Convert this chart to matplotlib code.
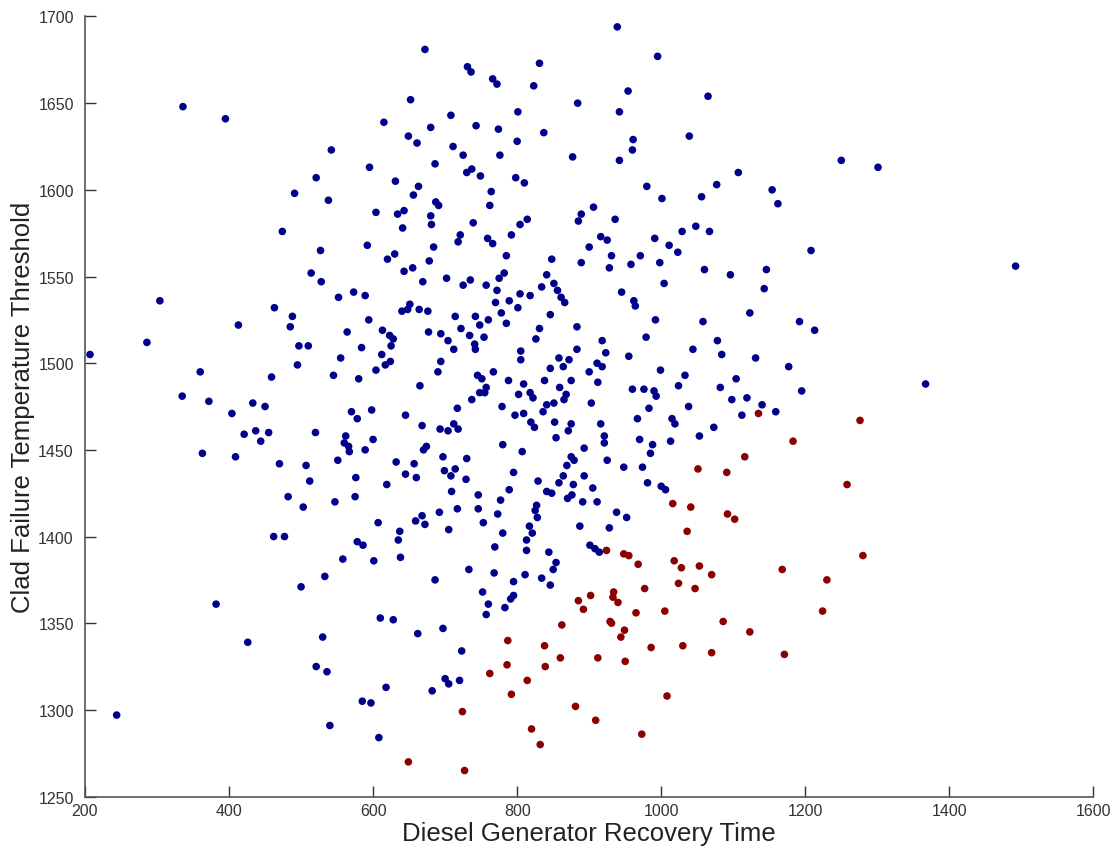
import matplotlib
matplotlib.use("Agg")
import matplotlib.pyplot as plt

# Survived (blue) cases: diesel generator recovery time vs clad failure temperature threshold
blue_x = [
    336, 395, 542, 521, 491, 538, 474, 527, 514,
    672, 731, 736, 831, 766, 772, 823, 652, 884, 801, 615, 708, 680, 743, 774, 837,
    649, 661, 711, 725, 776, 800, 877, 595, 686, 730, 737, 749, 798, 810, 631, 663,
    656, 764, 687, 691, 762, 604, 634, 643, 680, 681, 641, 739, 889, 885, 814, 804,
    792, 592, 721, 718, 759, 766, 684, 620, 630, 678, 785, 848, 889, 643, 655, 782, 841,
    939, 995, 954, 1065, 942, 1039, 961, 960, 942, 1107, 980, 1077, 1001, 1056, 1154,
    1162, 906, 936, 916, 925, 900, 991, 1029, 1048, 1067, 1011, 1023, 931, 971, 1208,
    928, 958, 998, 1060, 1096, 1146,
    1250, 1301, 1492,
    528, 304, 463, 488, 485, 413, 286, 497, 510, 207, 495, 545, 459, 360, 335, 372,
    433, 450, 404, 520, 421, 437, 455, 444, 363, 409, 470, 507, 512, 482, 503, 462, 477,
    669, 702, 725, 735, 757, 775, 772, 834, 851, 552, 573, 589, 651, 648, 640, 664, 676,
    770, 789, 804, 818, 801, 856, 861, 866, 778, 785, 846, 594, 714, 742, 748, 760, 722,
    734, 754, 741, 742, 831, 826, 883, 883, 564, 613, 623, 628, 625, 584, 677, 694, 704,
    712, 555, 612, 624, 617, 604, 580, 694, 690, 665, 805, 805, 858, 872, 846, 864, 745,
    751, 767, 788, 809, 838, 875, 859, 748, 757, 755, 737, 802, 818, 822, 868, 865, 779,
    841, 851, 836, 717, 570, 578, 598, 645, 668, 693, 704, 712, 718, 797, 809, 819, 824,
    852, 875, 854, 871, 562, 560, 566, 567, 600, 589, 674, 670, 780, 807, 893, 551, 632,
    657, 645, 660, 697, 730, 699, 714, 708, 729, 795, 789, 875, 879, 869, 864, 893, 858,
    829, 878, 841, 848, 870, 876, 891, 576, 619, 575, 547, 709, 746, 717, 746, 777, 773,
    692, 668, 659, 672, 607, 637, 705, 753, 780, 817, 821, 827, 825, 828, 887,
    1004, 1143, 945, 962, 964, 1123, 992, 1058, 1192, 1213, 979, 918, 1078, 1044, 1084,
    923, 955, 1131, 911, 918, 900, 999, 1033, 1177, 912, 960, 976, 990, 993, 1024, 1082,
    1104, 1195, 903, 983, 1038, 1098, 1119, 1140, 1159, 1112, 967, 1015, 1019, 916, 1073,
    921, 921, 970, 988, 1013, 1053, 985, 925, 948, 974, 905, 981, 1000, 1006, 911, 938,
    952, 928,
    1367,
    533, 500, 382, 426, 530, 521, 536, 244, 540,
    578, 586, 635, 813, 769, 813, 844, 854, 850, 558, 601, 638, 733, 768, 811, 795, 834,
    846, 686, 752, 760, 795, 791, 783, 757, 610, 628, 662, 697, 723, 618, 700, 705, 720,
    682, 585, 597, 608,
    901, 908, 914,
]
blue_y = [
    1648, 1641, 1623, 1607, 1598, 1594, 1576, 1565, 1552,
    1681, 1671, 1668, 1673, 1664, 1661, 1660, 1652, 1650, 1645, 1639, 1643, 1636, 1637, 1635, 1633,
    1631, 1627, 1625, 1620, 1620, 1628, 1619, 1613, 1615, 1610, 1612, 1608, 1607, 1604, 1605, 1602,
    1597, 1599, 1593, 1591, 1591, 1587, 1586, 1588, 1585, 1580, 1578, 1581, 1586, 1582, 1583, 1580,
    1574, 1568, 1574, 1570, 1572, 1569, 1567, 1560, 1563, 1559, 1562, 1560, 1558, 1553, 1555, 1552, 1551,
    1694, 1677, 1657, 1654, 1645, 1631, 1629, 1623, 1617, 1610, 1602, 1603, 1595, 1596, 1600,
    1592, 1590, 1583, 1573, 1571, 1567, 1572, 1576, 1579, 1576, 1568, 1564, 1562, 1562, 1565,
    1555, 1557, 1558, 1554, 1551, 1554,
    1617, 1613, 1556,
    1547, 1536, 1532, 1527, 1521, 1522, 1512, 1510, 1510, 1505, 1499, 1493, 1492, 1495, 1481, 1478,
    1477, 1475, 1471, 1460, 1459, 1461, 1460, 1455, 1448, 1446, 1442, 1441, 1432, 1423, 1417, 1400, 1400,
    1547, 1549, 1545, 1548, 1545, 1549, 1542, 1544, 1546, 1538, 1541, 1539, 1534, 1531, 1530, 1531, 1530,
    1535, 1536, 1540, 1539, 1532, 1542, 1538, 1535, 1529, 1523, 1528, 1525, 1527, 1527, 1522, 1525, 1520,
    1516, 1515, 1511, 1508, 1520, 1514, 1521, 1508, 1518, 1519, 1516, 1514, 1510, 1509, 1518, 1517, 1513,
    1508, 1503, 1505, 1501, 1499, 1496, 1491, 1501, 1495, 1487, 1507, 1502, 1503, 1502, 1497, 1498, 1493,
    1491, 1495, 1490, 1488, 1490, 1490, 1486, 1483, 1486, 1483, 1479, 1482, 1483, 1480, 1482, 1479, 1475,
    1476, 1477, 1472, 1474, 1472, 1468, 1473, 1470, 1464, 1462, 1461, 1465, 1462, 1470, 1471, 1466, 1463,
    1466, 1465, 1457, 1461, 1458, 1454, 1452, 1449, 1456, 1450, 1452, 1450, 1453, 1449, 1451, 1444, 1443,
    1442, 1436, 1434, 1446, 1445, 1438, 1439, 1435, 1433, 1437, 1427, 1446, 1444, 1441, 1435, 1435, 1431,
    1432, 1430, 1426, 1425, 1422, 1424, 1420, 1434, 1430, 1423, 1420, 1426, 1424, 1416, 1416, 1421, 1413,
    1414, 1412, 1409, 1407, 1408, 1403, 1404, 1408, 1402, 1406, 1402, 1418, 1415, 1411, 1406,
    1546, 1543, 1541, 1536, 1533, 1529, 1525, 1524, 1524, 1519, 1515, 1513, 1513, 1508, 1505,
    1506, 1504, 1503, 1500, 1498, 1495, 1496, 1493, 1498, 1489, 1485, 1485, 1484, 1481, 1487, 1486,
    1491, 1484, 1477, 1474, 1475, 1479, 1480, 1476, 1472, 1470, 1468, 1468, 1465, 1465, 1463,
    1458, 1454, 1456, 1453, 1455, 1458, 1448, 1444, 1440, 1440, 1428, 1431, 1429, 1427, 1420, 1414,
    1411, 1405,
    1488,
    1377, 1371, 1361, 1339, 1342, 1325, 1322, 1297, 1291,
    1397, 1395, 1398, 1398, 1394, 1392, 1391, 1385, 1381, 1387, 1386, 1388, 1381, 1379, 1378, 1374, 1376,
    1372, 1375, 1368, 1361, 1366, 1364, 1359, 1355, 1353, 1352, 1344, 1347, 1334, 1313, 1318, 1315, 1317,
    1311, 1305, 1304, 1284,
    1395, 1393, 1391,
]

# Failed (red) cases
red_x = [
    1135, 1183, 1116, 1051, 1091, 1016, 1041, 1092, 1102, 1036, 1276, 1258,
    885, 892, 862, 787, 838, 786, 860, 839, 762, 814, 792, 724, 881, 820, 832, 649, 727,
    924, 948, 955, 968, 1018, 1028, 1053, 1070, 1168, 1230, 1024, 1047, 902, 934, 933,
    940, 977, 965, 1005, 929, 931, 949, 944, 1086, 1123, 1224, 986, 1030, 1070, 1171,
    912, 950, 1008, 909, 973, 1280,
]
red_y = [
    1471, 1455, 1446, 1439, 1437, 1419, 1417, 1413, 1410, 1403, 1467, 1430,
    1363, 1358, 1349, 1340, 1337, 1326, 1330, 1325, 1321, 1317, 1309, 1299, 1302, 1289, 1280, 1270, 1265,
    1392, 1390, 1389, 1384, 1386, 1382, 1383, 1378, 1381, 1375, 1373, 1370, 1366, 1368, 1365,
    1362, 1370, 1356, 1357, 1351, 1350, 1346, 1342, 1351, 1345, 1357, 1336, 1337, 1333, 1332,
    1330, 1328, 1308, 1294, 1286, 1389,
]

x_ticks = [200, 400, 600, 800, 1000, 1200, 1400, 1600]
y_ticks = [1250, 1300, 1350, 1400, 1450, 1500, 1550, 1600, 1650, 1700]

plt.rcParams['font.family'] = ['Liberation Sans', 'DejaVu Sans']

fig = plt.figure(figsize=(11.18, 8.53), dpi=100)
ax = fig.add_axes([0.076, 0.065, 0.902, 0.9145])

ax.scatter(blue_x, blue_y, s=30, c='#00008B', edgecolors='none', zorder=3)
ax.scatter(red_x, red_y, s=30, c='#8B0000', edgecolors='none', zorder=3)

ax.set_xlim(200, 1600)
ax.set_ylim(1250, 1700)
ax.set_xticks(x_ticks)
ax.set_yticks(y_ticks)
ax.tick_params(direction='in', length=8, width=1, labelsize=11.5, colors='#333333')
ax.tick_params(axis='y', pad=8)
ax.tick_params(axis='x', pad=5)
for side in ('top', 'right'):
    ax.spines[side].set_visible(False)
for side in ('left', 'bottom'):
    ax.spines[side].set_color('#555555')
    ax.spines[side].set_linewidth(1.2)

ax.set_xlabel('Diesel Generator Recovery Time', fontsize=18.5, color='#222222', labelpad=2)
ax.set_ylabel('Clad Failure Temperature Threshold', fontsize=18.5, color='#222222', labelpad=2)

fig.savefig('out.png', dpi=100)
